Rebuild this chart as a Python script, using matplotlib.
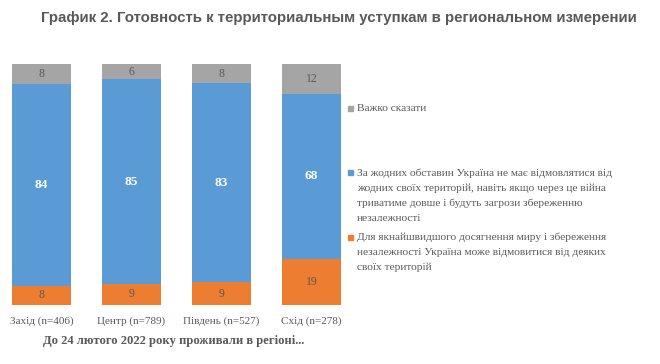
import numpy as np
import matplotlib.pyplot as plt
from matplotlib.patches import Rectangle

regions = ['Захід (n=406)', 'Центр (n=789)', 'Південь (n=527)', 'Схід (n=278)']
# shares in % (labels are rounded)
may_give = [8.0, 8.8, 9.4, 19.2]
never_give = [83.6, 84.8, 82.6, 68.4]
hard_to_say = [8.4, 6.4, 8.0, 12.4]

labels = [
    'Важко сказати',
    'За жодних обставин Україна не має відмовлятися від\nжодних своїх територій, навіть якщо через це війна\nтриватиме довше і будуть загрози збереженню\nнезалежності',
    'Для якнайшвидшого досягнення миру і збереження\nнезалежності Україна може відмовитися від деяких\nсвоїх територій',
]
colors = ['#A5A5A5', '#5B9BD5', '#ED7D31']

W, H = 660, 364
fig = plt.figure(figsize=(W / 100, H / 100), dpi=100)
fig.patch.set_facecolor('white')

# axes placed in pixel units
ax = fig.add_axes([0, 1 - 305 / H, 360 / W, (305 - 64) / H])
x = np.arange(len(regions))
ax.bar(x, may_give, width=0.655, color=colors[2])
ax.bar(x, never_give, width=0.655, bottom=may_give, color=colors[1])
ax.bar(x, hard_to_say, width=0.655, bottom=np.add(may_give, never_give), color=colors[0])

ax.set_xlim(-41.5 / 90, (360 - 41.5) / 90)
ax.set_ylim(0, 100)
for s in ax.spines.values():
    s.set_visible(False)
ax.set_yticks([])
ax.set_xticks(x)
ax.set_xticklabels(regions, fontsize=8, family='Liberation Serif', color='#595959')
ax.tick_params(axis='x', length=0, pad=8)

for i in range(len(regions)):
    ax.text(x[i], may_give[i] / 2, f'{may_give[i]:.0f}', ha='center', va='center',
            fontsize=8.5, family='Liberation Serif', color='#595959')
    ax.text(x[i], may_give[i] + never_give[i] / 2, f'{never_give[i]:.0f}', ha='center', va='center',
            fontsize=9.5, family='Liberation Serif', color='white', fontweight='bold')
    ax.text(x[i], may_give[i] + never_give[i] + hard_to_say[i] / 2, f'{hard_to_say[i]:.0f}',
            ha='center', va='center', fontsize=8.5, family='Liberation Serif', color='#595959')

fig.text(174 / W, 1 - 341 / H, 'До 24 лютого 2022 року проживали в регіоні...', ha='center', va='center',
         fontsize=9.1, family='Liberation Serif', fontweight='bold', color='#595959')

fig.text(339 / W, 1 - 18 / H, 'График 2. Готовность к территориальным уступкам в региональном измерении',
         ha='center', va='center', fontsize=10.8, family='Liberation Sans', fontweight='bold', color='#595959')

# legend
legend_y = [108, 172, 237]
for lab, col, ly in zip(labels, colors, legend_y):
    fig.patches.append(Rectangle((348 / W, 1 - (ly + 2.5) / H), 5 / W, 5 / H,
                                 transform=fig.transFigure, color=col, figure=fig))
    fig.text(357 / W, 1 - (ly - 4) / H, lab, ha='left', va='top', fontsize=8.2,
             family='Liberation Serif', color='#595959', linespacing=1.78)

plt.savefig('out.png', dpi=100)
